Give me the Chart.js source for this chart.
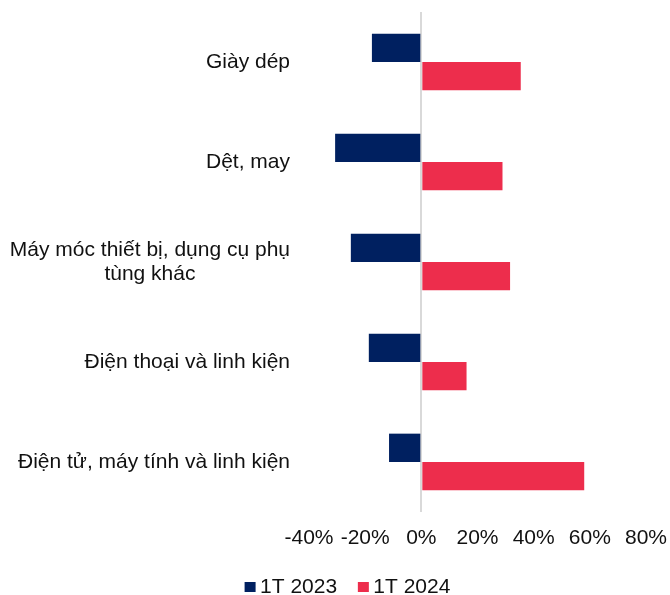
<!DOCTYPE html>
<html>
<head>
<meta charset="utf-8">
<script src="https://cdn.jsdelivr.net/npm/chart.js@4.4.1/dist/chart.umd.min.js"></script>
<style>
  html, body { margin: 0; padding: 0; background: #ffffff; }
  #wrap { width: 670px; height: 595px; }
</style>
</head>
<body>
<div id="wrap"><canvas id="c" width="670" height="595"></canvas></div>
<script>
const categories = [
  'Giày dép',
  'Dệt, may',
  ['Máy móc thiết bị, dụng cụ phụ', 'tùng khác'],
  'Điện thoại và linh kiện',
  'Điện tử, máy tính và linh kiện'
];
const series2023 = [-17.6, -30.7, -25.1, -18.7, -11.5];
const series2024 = [35.4, 28.9, 31.6, 16.1, 58.0];
const seriesNames = ['1T 2023', '1T 2024'];
const xMin = -40, xMax = 80, xStep = 20;

const FONT = '"Liberation Sans", Arial, sans-serif';
const FSIZE = 21;
const TEXT = '#111111';
const NAVY = '#002060';
const RED = '#ED2D4C';

const yLabelPlugin = {
  id: 'yLabels',
  afterDraw(chart) {
    const ctx = chart.ctx;
    const ys = chart.scales.y;
    const rightX = chart.chartArea.left - 19;
    const lh = 24;
    ctx.save();
    ctx.font = FSIZE + 'px ' + FONT;
    ctx.fillStyle = TEXT;
    ctx.textAlign = 'center';
    ctx.textBaseline = 'middle';
    categories.forEach((lab, i) => {
      const lines = Array.isArray(lab) ? lab : [lab];
      const maxW = Math.max(...lines.map(l => ctx.measureText(l).width));
      const cx = rightX - maxW / 2;
      const cy = ys.getPixelForValue(i);
      const y0 = cy - (lines.length - 1) * lh / 2;
      lines.forEach((l, k) => ctx.fillText(l, cx, y0 + k * lh));
    });
    ctx.restore();
  }
};

const legendPlugin = {
  id: 'customLegend',
  afterDraw(chart) {
    const ctx = chart.ctx;
    ctx.save();
    ctx.font = FSIZE + 'px ' + FONT;
    ctx.textBaseline = 'middle';
    ctx.textAlign = 'left';
    const box = 11, boxH = 10, gapText = 4.5, gapItem = 20.7;
    const ds = chart.data.datasets;
    const widths = ds.map(d => ctx.measureText(d.label).width);
    let total = 0;
    widths.forEach((w, i) => { total += box + gapText + w + (i < widths.length - 1 ? gapItem : 0); });
    let x = 347.5 - total / 2;
    const cy = 587;
    ds.forEach((d, i) => {
      ctx.fillStyle = d.backgroundColor;
      ctx.fillRect(x, cy - boxH / 2, box, boxH);
      x += box + gapText;
      ctx.fillStyle = TEXT;
      ctx.fillText(d.label, x, cy);
      x += widths[i] + gapItem;
    });
    ctx.restore();
  }
};

new Chart(document.getElementById('c'), {
  type: 'bar',
  data: {
    labels: categories,
    datasets: [
      { label: seriesNames[0], data: series2023, backgroundColor: NAVY, categoryPercentage: 0.567, barPercentage: 1.0 },
      { label: seriesNames[1], data: series2024, backgroundColor: RED, categoryPercentage: 0.567, barPercentage: 1.0 }
    ]
  },
  options: {
    indexAxis: 'y',
    responsive: false,
    animation: false,
    layout: { padding: { left: 0, right: 24, top: 12, bottom: 44 } },
    plugins: {
      legend: { display: false },
      tooltip: { enabled: false },
      title: { display: false }
    },
    scales: {
      x: {
        min: xMin, max: xMax,
        z: 1,
        border: { display: false },
        grid: {
          drawTicks: false,
          lineWidth: 2,
          color: c => (c.tick && c.tick.value === 0) ? '#d9d9d9' : 'rgba(0,0,0,0)'
        },
        ticks: {
          stepSize: xStep,
          padding: 14,
          maxRotation: 0,
          color: TEXT,
          font: { family: FONT, size: FSIZE },
          callback: v => v + '%'
        },
        afterFit: s => { s.height = 39; s.paddingRight = 0; s.paddingLeft = 0; }
      },
      y: {
        border: { display: false },
        grid: { display: false, drawTicks: false },
        ticks: { display: false },
        afterFit: s => { s.width = 309; }
      }
    }
  },
  plugins: [yLabelPlugin, legendPlugin]
});
</script>
</body>
</html>
